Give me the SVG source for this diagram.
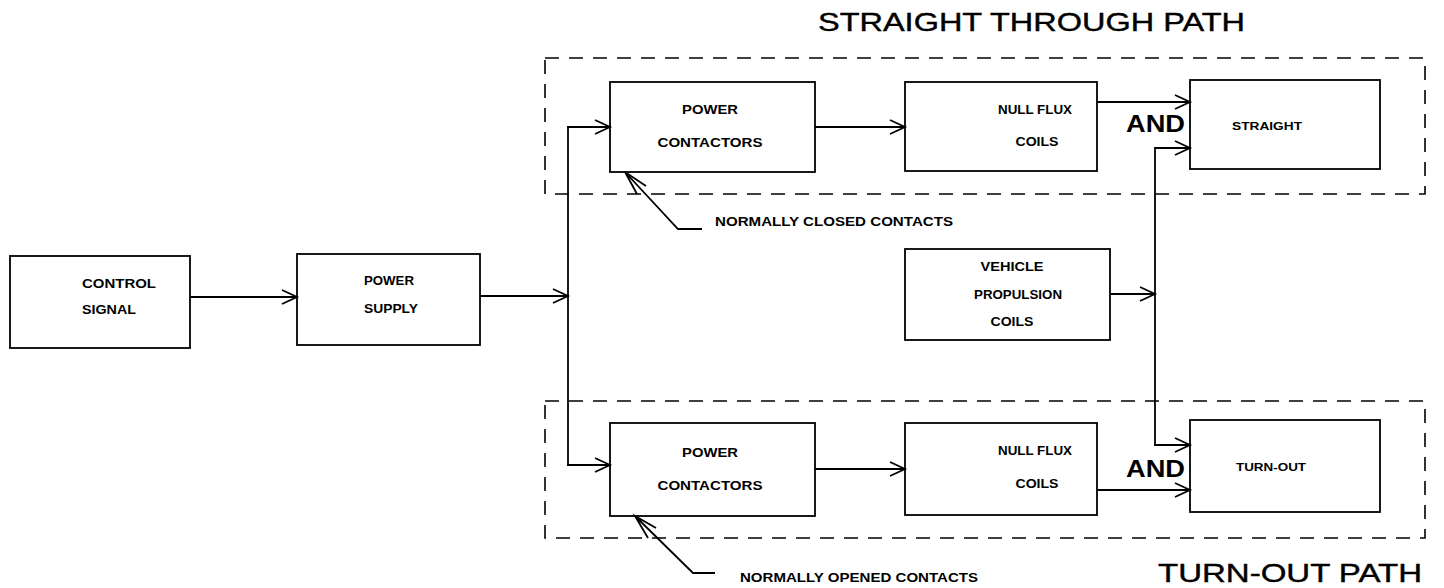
<svg xmlns="http://www.w3.org/2000/svg" width="1444" height="588" viewBox="0 0 1444 588">
<style>
.box{fill:none;stroke:#000;stroke-width:1.8}
.dash{fill:none;stroke:#000;stroke-width:1.6;stroke-dasharray:14 10}
.ln{fill:none;stroke:#000;stroke-width:1.8}
.t{font-family:"Liberation Sans",Arial,sans-serif;font-weight:bold;font-size:12.5px;fill:#000;text-anchor:middle}
.s{font-family:"Liberation Sans",Arial,sans-serif;font-weight:bold;font-size:12px;fill:#000}
.big{font-family:"Liberation Sans",Arial,sans-serif;font-size:25px;fill:#000;stroke:#000;stroke-width:0.4}
.and{font-family:"Liberation Sans",Arial,sans-serif;font-weight:bold;font-size:23px;fill:#000}
</style>
<defs>
<marker id="ah" markerUnits="userSpaceOnUse" markerWidth="18" markerHeight="16" refX="16" refY="7" orient="auto" overflow="visible">
<path d="M1,0 L16,7 L1,14" fill="none" stroke="#000" stroke-width="1.8"/>
</marker>
</defs>
<rect width="1444" height="588" fill="#fff"/>
<g id="groups">
<rect class="dash" x="545" y="58" width="880" height="136"/>
<rect class="dash" x="545" y="401" width="880" height="137"/>
<text class="big" x="818" y="31" textLength="427" lengthAdjust="spacingAndGlyphs">STRAIGHT THROUGH PATH</text>
<text class="big" x="1158" y="582" textLength="264" lengthAdjust="spacingAndGlyphs">TURN-OUT PATH</text>
</g>
<g id="connectors">
<line class="ln" x1="190" y1="297" x2="297" y2="297" marker-end="url(#ah)"/>
<line class="ln" x1="480" y1="296" x2="568" y2="296" marker-end="url(#ah)"/>
<line class="ln" x1="568" y1="127" x2="568" y2="465"/>
<line class="ln" x1="567" y1="127" x2="610" y2="127" marker-end="url(#ah)"/>
<line class="ln" x1="567" y1="465" x2="610" y2="465" marker-end="url(#ah)"/>
<line class="ln" x1="815" y1="127" x2="905" y2="127" marker-end="url(#ah)"/>
<line class="ln" x1="815" y1="469" x2="905" y2="469" marker-end="url(#ah)"/>
<line class="ln" x1="1097" y1="102" x2="1190" y2="102" marker-end="url(#ah)"/>
<line class="ln" x1="1155" y1="148" x2="1190" y2="148" marker-end="url(#ah)"/>
<line class="ln" x1="1155" y1="147" x2="1155" y2="446"/>
<line class="ln" x1="1154" y1="445" x2="1190" y2="445" marker-end="url(#ah)"/>
<line class="ln" x1="1110" y1="294" x2="1155" y2="294" marker-end="url(#ah)"/>
<line class="ln" x1="1097" y1="490" x2="1190" y2="490" marker-end="url(#ah)"/>
<path class="ln" d="M702,229 L678,229 L625,172 M637,194 L625,172 L646,186"/>
<path class="ln" d="M715,573 L693,573 L635,516 M648,538 L635,516 L656,528"/>
<text class="s" x="715" y="226" textLength="238" lengthAdjust="spacingAndGlyphs">NORMALLY CLOSED CONTACTS</text>
<text class="s" x="740" y="582" textLength="238" lengthAdjust="spacingAndGlyphs">NORMALLY OPENED CONTACTS</text>
<text class="and" x="1126" y="132" textLength="59" lengthAdjust="spacingAndGlyphs">AND</text>
<text class="and" x="1126" y="477" textLength="59" lengthAdjust="spacingAndGlyphs">AND</text>
</g>
<g id="control-signal">
<rect class="box" x="10" y="256" width="180" height="92"/>
<text class="t" x="119" y="288" textLength="74" lengthAdjust="spacingAndGlyphs">CONTROL</text>
<text class="t" x="109" y="314" textLength="54" lengthAdjust="spacingAndGlyphs">SIGNAL</text>
</g>
<g id="power-supply">
<rect class="box" x="297" y="254" width="183" height="91"/>
<text class="t" x="389" y="285" textLength="50" lengthAdjust="spacingAndGlyphs">POWER</text>
<text class="t" x="391" y="313" textLength="54" lengthAdjust="spacingAndGlyphs">SUPPLY</text>
</g>
<g id="power-contactors-top">
<rect class="box" x="610" y="82" width="205" height="90"/>
<text class="t" x="710" y="114" textLength="56" lengthAdjust="spacingAndGlyphs">POWER</text>
<text class="t" x="710" y="147" textLength="105" lengthAdjust="spacingAndGlyphs">CONTACTORS</text>
</g>
<g id="null-flux-top">
<rect class="box" x="905" y="82" width="192" height="89"/>
<text class="t" x="1035" y="114" textLength="74" lengthAdjust="spacingAndGlyphs">NULL FLUX</text>
<text class="t" x="1037" y="146" textLength="43" lengthAdjust="spacingAndGlyphs">COILS</text>
</g>
<g id="straight">
<rect class="box" x="1190" y="80" width="190" height="89"/>
<text class="t" x="1267" y="130" textLength="70" lengthAdjust="spacingAndGlyphs" style="font-size:11.5px">STRAIGHT</text>
</g>
<g id="vehicle-propulsion-coils">
<rect class="box" x="905" y="249" width="205" height="91"/>
<text class="t" x="1012" y="271" textLength="63" lengthAdjust="spacingAndGlyphs">VEHICLE</text>
<text class="t" x="1018" y="299" textLength="88" lengthAdjust="spacingAndGlyphs">PROPULSION</text>
<text class="t" x="1012" y="326" textLength="43" lengthAdjust="spacingAndGlyphs">COILS</text>
</g>
<g id="power-contactors-bottom">
<rect class="box" x="610" y="423" width="205" height="93"/>
<text class="t" x="710" y="457" textLength="56" lengthAdjust="spacingAndGlyphs">POWER</text>
<text class="t" x="710" y="490" textLength="105" lengthAdjust="spacingAndGlyphs">CONTACTORS</text>
</g>
<g id="null-flux-bottom">
<rect class="box" x="905" y="423" width="192" height="92"/>
<text class="t" x="1035" y="455" textLength="74" lengthAdjust="spacingAndGlyphs">NULL FLUX</text>
<text class="t" x="1037" y="488" textLength="43" lengthAdjust="spacingAndGlyphs">COILS</text>
</g>
<g id="turn-out">
<rect class="box" x="1190" y="420" width="190" height="92"/>
<text class="t" x="1271" y="471" textLength="70" lengthAdjust="spacingAndGlyphs" style="font-size:11.5px">TURN-OUT</text>
</g>
</svg>
